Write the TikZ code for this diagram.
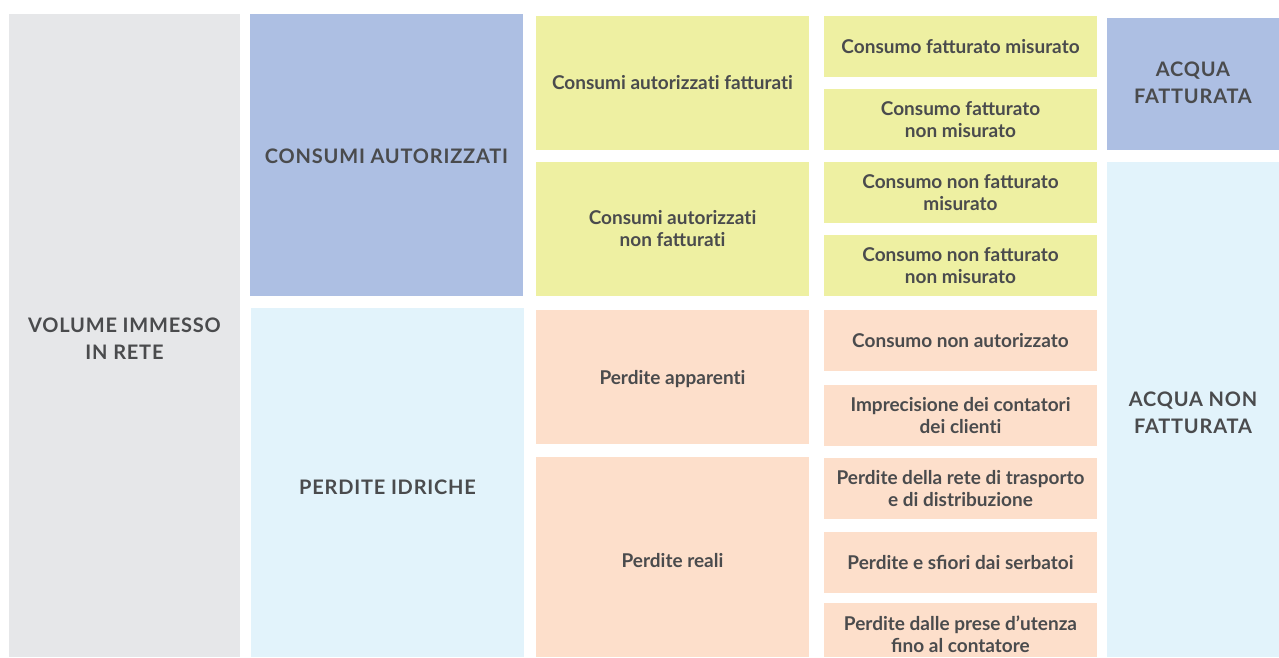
\documentclass[tikz,border=0pt]{standalone}
\usepackage{fontspec}
\setmainfont{Lato}
\newfontfamily\headfont[LetterSpace=4]{Lato}
\definecolor{cgray}{HTML}{E6E7E9}
\definecolor{cblue}{HTML}{ADBFE3}
\definecolor{clight}{HTML}{E2F3FB}
\definecolor{cyel}{HTML}{EEF0A2}
\definecolor{cpeach}{HTML}{FDDFCB}
\definecolor{ctext}{HTML}{4A4B4D}
\begin{document}
\begin{tikzpicture}[x=1pt,y=-1pt,
  txt/.style={inner sep=0pt, outer sep=0pt, align=center, text=ctext},
  head/.style={txt, font=\headfont\bfseries\fontsize{20}{27}\selectfont},
  item/.style={txt, font=\bfseries\fontsize{19}{22}\selectfont}]
\useasboundingbox[fill=white] (0,0) rectangle (1279,657);
% boxes
\fill[cgray] (9,14) rectangle (240,657);
\fill[cblue] (250,14) rectangle (523,296);
\fill[clight] (251,308) rectangle (524,657);
\fill[cyel] (536,16) rectangle (809,150);
\fill[cyel] (536,162) rectangle (809,296);
\fill[cpeach] (536,310) rectangle (809,444);
\fill[cpeach] (536,457) rectangle (809,657);
\fill[cyel] (824,16) rectangle (1097,77);
\fill[cyel] (824,89) rectangle (1097,150);
\fill[cyel] (824,162) rectangle (1097,223);
\fill[cyel] (824,235) rectangle (1097,296);
\fill[cpeach] (824,310) rectangle (1097,371);
\fill[cpeach] (824,385) rectangle (1097,446);
\fill[cpeach] (824,458) rectangle (1097,519);
\fill[cpeach] (824,532) rectangle (1097,593);
\fill[cpeach] (824,603) rectangle (1097,657);
\fill[cblue] (1107,18) rectangle (1279,150);
\fill[clight] (1107,162) rectangle (1279,657);
% texts
\node[head] (vol) at (124.5,339) {VOLUME IMMESSO\\IN RETE};
\node[head] (ca) at (386.5,156) {CONSUMI AUTORIZZATI};
\node[head] (pi) at (387.5,487) {PERDITE IDRICHE};
\node[item] (caf) at (672.5,83) {Consumi autorizzat\kern0pt i fatturat\kern0pt i};
\node[item] (canf) at (672.5,228.5) {Consumi autorizzat\kern0pt i\\non fatturat\kern0pt i};
\node[item] (pa) at (672.5,379) {Perdite apparent\kern0pt i};
\node[item] (pr) at (672.5,561) {Perdite reali};
\node[item] (c1) at (960.5,46.5) {Consumo fatturato misurato};
\node[item] (c2) at (960.5,119.5) {Consumo fatturato\\non misurato};
\node[item] (c3) at (960.5,192.5) {Consumo non fatturato\\misurato};
\node[item] (c4) at (960.5,265.5) {Consumo non fatturato\\non misurato};
\node[item] (c5) at (960.5,340.5) {Consumo non autorizzato};
\node[item] (c6) at (960.5,415.5) {Imprecisione dei contatori\\dei client\kern0pt i};
\node[item] (c7) at (960.5,488.5) {Perdite della rete di trasporto\\e di distribuzione};
\node[item] (c8) at (960.5,562.5) {Perdite e sfiori dai serbatoi};
\node[item] (c9) at (960.5,634) {Perdite dalle prese d’utenza\\fino al contatore};
\node[head] (af) at (1193,83) {ACQUA\\FATTURATA};
\node[head] (anf) at (1193,413) {ACQUA NON\\FATTURATA};
\end{tikzpicture}
\end{document}
